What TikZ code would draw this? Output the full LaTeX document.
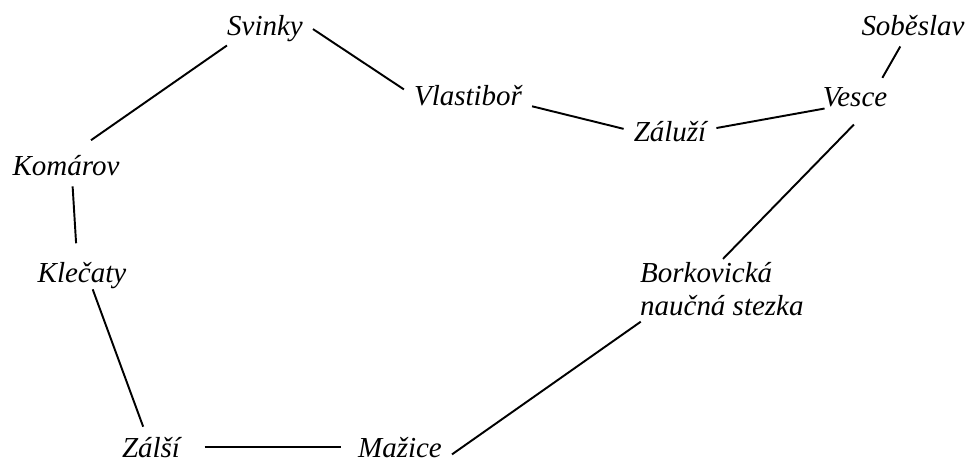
\documentclass[tikz,border=0pt]{standalone}
\usepackage{fontspec}
\setmainfont{Liberation Serif}
\begin{document}
\begin{tikzpicture}[x=0.414pt,y=-0.414pt,
  place/.style={anchor=base,inner sep=4pt,font=\fontsize{12pt}{13.7pt}\selectfont\itshape},
  road/.style={line width=0.8pt}]
  \useasboundingbox (0,0) rectangle (967,461);
  \node[place] (svinky) at (265,36) {Svinky};
  \node[place] (vlastibor) at (468,106) {Vlastiboř};
  \node[place] (zaluzi) at (670,142) {Záluží};
  \node[place] (vesce) at (855,107) {Vesce};
  \node[place] (sobeslav) at (913,36) {Soběslav};
  \node[place] (komarov) at (66,176) {Komárov};
  \node[place] (klecaty) at (82,282) {Klečaty};
  \node[place] (zalsi) at (151,457) {Zálší};
  \node[place] (mazice) at (400,457) {Mažice};
  \node[place,anchor=north west,align=left] (borkovicka) at (630,252) {Borkovická\\naučná stezka};
  \draw[road,shorten <=-5pt,shorten >=4pt] (svinky.south west) -- (komarov.50);
  \draw[road] (svinky.east) -- (vlastibor.174);
  \draw[road,shorten >=3.5pt] (komarov.-72) -- (klecaty.103);
  \draw[road,shorten <=-4pt] (klecaty.-59) -- (zalsi.111);
  \draw[road,shorten <=6pt,shorten >=3pt] (zalsi.east) -- (mazice.west);
  \draw[road,shorten >=-3pt] (mazice.-8) -- (borkovicka.203);
  \draw[road,shorten <=-4pt,shorten >=4pt] (borkovicka.78) -- (vesce.-74);
  \draw[road] (vlastibor.-9) -- (zaluzi.176);
  \draw[road,shorten >=-5pt] (zaluzi.5) -- (vesce.197);
  \draw[road] (vesce.36) -- (sobeslav.238);
\end{tikzpicture}
\end{document}
